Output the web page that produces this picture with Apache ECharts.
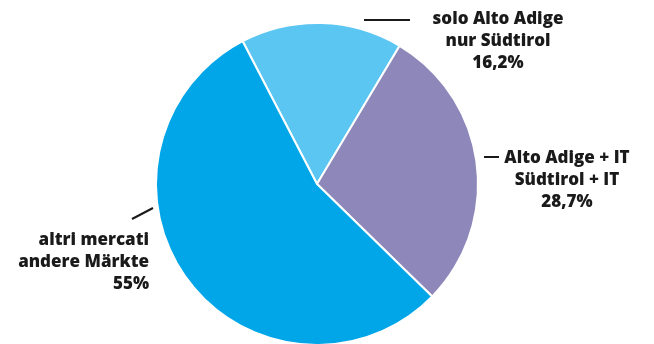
<!DOCTYPE html>
<html lang="it">
<head>
    <meta charset="UTF-8">
    <title>Mercati</title>
    <script src="https://cdn.jsdelivr.net/npm/echarts@6/dist/echarts.min.js"></script>
    <style>
        html, body { margin: 0; padding: 0; background: #fff; }
        #chart { width: 654px; height: 344px; }
    </style>
</head>
<body>
<div id="chart"></div>
<script type="text/javascript">
    // dati del grafico
    const labels = ['solo Alto Adige\nnur Südtirol', 'Alto Adige + IT\nSüdtirol + IT', 'altri mercati\nandere Märkte'];
    const values = [16.2, 28.7, 55];
    const colors = ['#5cc6f2', '#8e88ba', '#00a6e8'];

    // posizione delle etichette (x, y, allineamento)
    const labelPos = [
        {x: 498, y: 8, align: 'center'},
        {x: 567, y: 147, align: 'center'},
        {x: 149, y: 229, align: 'right'}
    ];

    const chart = echarts.init(document.getElementById('chart'));

    const option = {
        animation: false,
        series: [{
            type: 'pie',
            center: [317, 184],
            radius: [0, 161],
            startAngle: 117.5,
            clockwise: true,
            data: labels.map((n, i) => ({
                name: n,
                value: values[i],
                itemStyle: {color: colors[i]}
            })),
            itemStyle: {borderColor: '#fff', borderWidth: 2},
            label: {
                show: true,
                position: 'outside',
                overflow: 'none',
                color: '#1a1a1a',
                fontFamily: 'Open Sans',
                fontWeight: 800,
                fontSize: 17,
                lineHeight: 22,
                formatter: p => p.name + '\n' + String(p.value).replace('.', ',') + '%'
            },
            labelLine: {show: false},
            labelLayout: p => ({
                x: labelPos[p.dataIndex].x,
                y: labelPos[p.dataIndex].y,
                align: labelPos[p.dataIndex].align,
                verticalAlign: 'top'
            })
        }],
        graphic: [
            {type: 'line', shape: {x1: 364, y1: 20, x2: 410, y2: 20}, style: {stroke: '#1a1a1a', lineWidth: 2}},
            {type: 'line', shape: {x1: 484, y1: 157, x2: 499, y2: 157}, style: {stroke: '#1a1a1a', lineWidth: 2}},
            {type: 'line', shape: {x1: 132, y1: 219, x2: 153, y2: 208}, style: {stroke: '#1a1a1a', lineWidth: 2}}
        ]
    };

    chart.setOption(option);
</script>
</body>
</html>
